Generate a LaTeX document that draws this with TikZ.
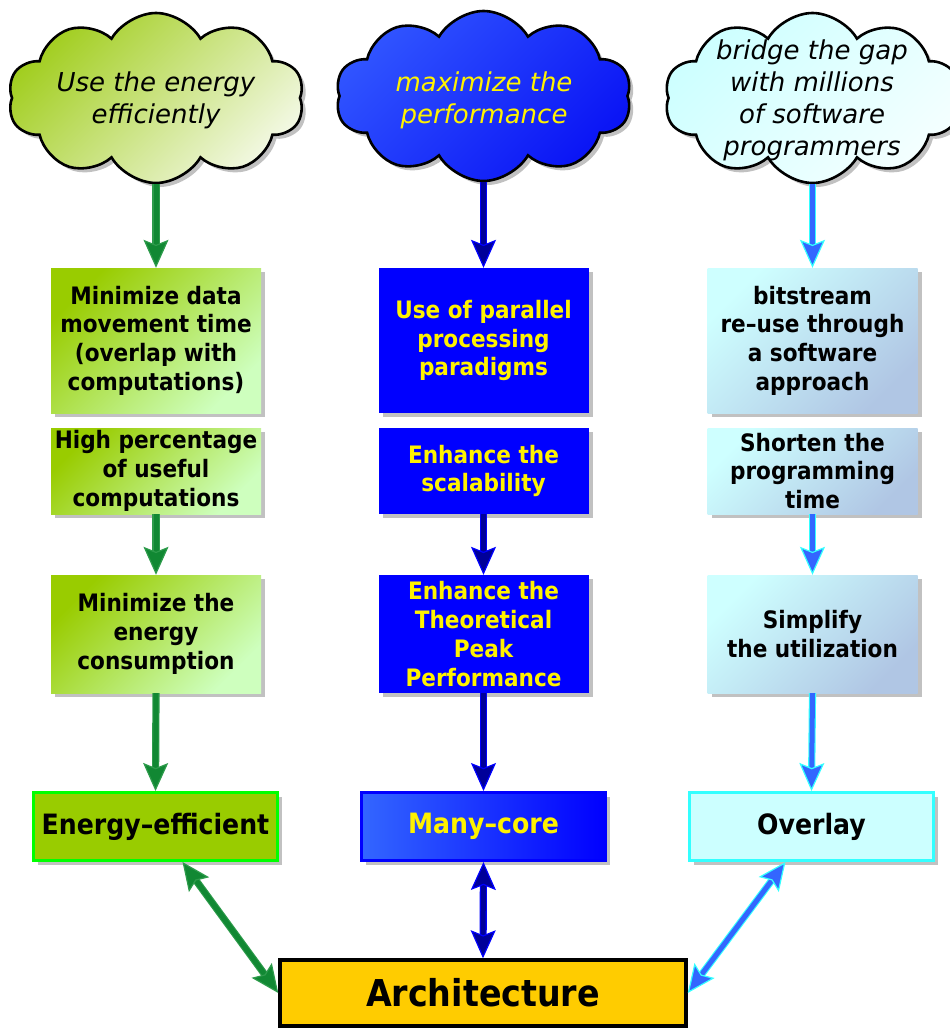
\documentclass[tikz,border=0pt]{standalone}
\usepackage{fontspec}
\setmainfont{DejaVu Sans}
\newfontfamily\boxfont{DejaVu Sans}[FakeStretch=0.9]
\newfontfamily\cloudfont{DejaVu Sans}
\usetikzlibrary{shapes.symbols,arrows.meta,shadows}

% cloud fills
\definecolor{gA}{RGB}{162,206,32}
\definecolor{gB}{RGB}{242,248,226}
\definecolor{bA}{RGB}{48,84,255}
\definecolor{bB}{RGB}{10,20,245}
\definecolor{cA}{RGB}{205,255,255}
\definecolor{cB}{RGB}{244,255,255}
% step boxes
\definecolor{gbA}{RGB}{153,204,0}
\definecolor{gbB}{RGB}{206,255,190}
\definecolor{cbA}{RGB}{206,255,255}
\definecolor{cbB}{RGB}{176,198,228}
% result boxes
\definecolor{eeFill}{RGB}{153,204,0}
\definecolor{eeLine}{RGB}{0,255,0}
\definecolor{mcA}{RGB}{51,102,255}
\definecolor{mcB}{RGB}{0,0,255}
\definecolor{ovFill}{RGB}{204,255,255}
\definecolor{ovLine}{RGB}{51,255,255}
\definecolor{archFill}{RGB}{255,204,0}
% connectors
\definecolor{agCore}{RGB}{17,136,51}
\definecolor{agEdge}{RGB}{45,155,75}
\definecolor{abCore}{RGB}{0,0,153}
\definecolor{abEdge}{RGB}{0,0,255}
\definecolor{acCore}{RGB}{51,102,255}
\definecolor{acEdge}{RGB}{51,255,255}

\tikzset{
  shade45/.style 2 args={top color=#1, bottom color=#2, shading angle=45},
  softshadow/.style={drop shadow={opacity=0.3, shadow xshift=4pt, shadow yshift=-4pt, fill=black!80}},
  goal/.style={cloud, cloud puffs=10, cloud puff arc=120, cloud ignores aspect,
    draw=black, line width=2.6pt, minimum width=296pt, minimum height=170pt,
    inner sep=0pt, softshadow},
  goaltext/.style={align=center, inner sep=0pt,
    font=\cloudfont\itshape\fontsize{26}{32}\selectfont},
  stepbox/.style={rectangle, minimum width=210pt, align=center, inner sep=0pt,
    softshadow, font=\boxfont\bfseries\fontsize{24}{28.7}\selectfont},
  resultbox/.style={rectangle, minimum width=244pt, minimum height=68pt,
    line width=3pt, align=center, softshadow,
    font=\boxfont\bfseries\fontsize{28}{32}\selectfont},
  tipG/.tip={Stealth[length=28pt,width=25pt,inset=5pt,line width=1.2pt,color=agEdge,fill=agCore]},
  tipB/.tip={Stealth[length=28pt,width=25pt,inset=5pt,line width=1.2pt,color=abEdge,fill=abCore]},
  tipC/.tip={Stealth[length=28pt,width=25pt,inset=5pt,line width=1.2pt,color=acEdge,fill=acCore]},
  flowG/.style={draw=agEdge, double=agCore, double distance=5pt, line width=1.1pt},
  flowB/.style={draw=abEdge, double=abCore, double distance=5pt, line width=1.1pt},
  flowC/.style={draw=acEdge, double=acCore, double distance=5pt, line width=1.1pt},
}

\begin{document}
\begin{tikzpicture}[x=1pt,y=-1pt]
\useasboundingbox (0,0) rectangle (950,1029);

% goals
\node[goal, shade45={gA}{gB}] (c1) at (156,98) {};
\node[goaltext] (c1t) at (156,100) {Use the energy\\efficiently};
\node[goal, shade45={bA}{bB}] (c2) at (483.5,96) {};
\node[goaltext, text=yellow] (c2t) at (484,100) {maximize the\\performance};
\node[goal, shade45={cA}{cB}] (c3) at (812.5,98) {};
\node[goaltext] (c3t) at (812,100) {bridge the gap\\with millions\\of software\\programmers};

% energy column
\node[stepbox, minimum height=145pt, shade45={gbA}{gbB}] (g1) at (156,340.5)
  {Minimize data\\movement time\\(overlap with\\computations)};
\node[stepbox, minimum height=86pt, shade45={gbA}{gbB}] (g2) at (156,471)
  {High percentage\\of useful\\computations};
\node[stepbox, minimum height=118pt, shade45={gbA}{gbB}] (g3) at (156,634)
  {Minimize the\\energy\\consumption};
\node[resultbox, draw=eeLine, fill=eeFill] (ee) at (155.5,826.5) {Energy–efficient};

% performance column
\node[stepbox, minimum height=145pt, fill=blue, text=yellow] (p1) at (483.5,340.5)
  {Use of parallel\\processing\\paradigms};
\node[stepbox, minimum height=86pt, fill=blue, text=yellow] (p2) at (483.5,471)
  {Enhance the\\scalability};
\node[stepbox, minimum height=118pt, fill=blue, text=yellow] (p3) at (483.5,634)
  {Enhance the\\Theoretical\\Peak\\Performance};
\node[resultbox, draw=mcB, left color=mcA, right color=mcB, text=yellow] (mc) at (483.5,826.5) {Many–core};

% programmability column
\node[stepbox, minimum height=145pt, shade45={cbA}{cbB}] (s1) at (812.5,340.5)
  {bitstream\\re–use through\\a software\\approach};
\node[stepbox, minimum height=86pt, shade45={cbA}{cbB}] (s2) at (812.5,471)
  {Shorten the\\programming\\time};
\node[stepbox, minimum height=118pt, shade45={cbA}{cbB}] (s3) at (812.5,634)
  {Simplify\\the utilization};
\node[resultbox, draw=ovLine, fill=ovFill] (ov) at (811.5,826.5) {Overlay};

% common target
\node[rectangle, draw=black, line width=3.5pt, fill=archFill, minimum width=406pt,
  minimum height=66pt, font=\boxfont\bfseries\fontsize{37}{40}\selectfont] (arch) at (483,993) {Architecture};

% connectors
\draw[flowG, -tipG] (c1.south) -- (g1.north);
\draw[flowG, -tipG] (g2.south) -- (g3.north);
\draw[flowG, -tipG] (g3.south) -- (ee.north);
\draw[flowG, tipG-tipG] ([xshift=27pt]ee.south) -- (arch.west);

\draw[flowB, -tipB] (c2.south) -- (p1.north);
\draw[flowB, -tipB] (p2.south) -- (p3.north);
\draw[flowB, -tipB] (p3.south) -- (mc.north);
\draw[flowB, tipB-tipB] (mc.south) -- (arch.north);

\draw[flowC, -tipC] (c3.south) -- (s1.north);
\draw[flowC, -tipC] (s2.south) -- (s3.north);
\draw[flowC, -tipC] (s3.south) -- (ov.north);
\draw[flowC, tipC-tipC] ([xshift=-26pt]ov.south) -- (arch.east);
\end{tikzpicture}
\end{document}
